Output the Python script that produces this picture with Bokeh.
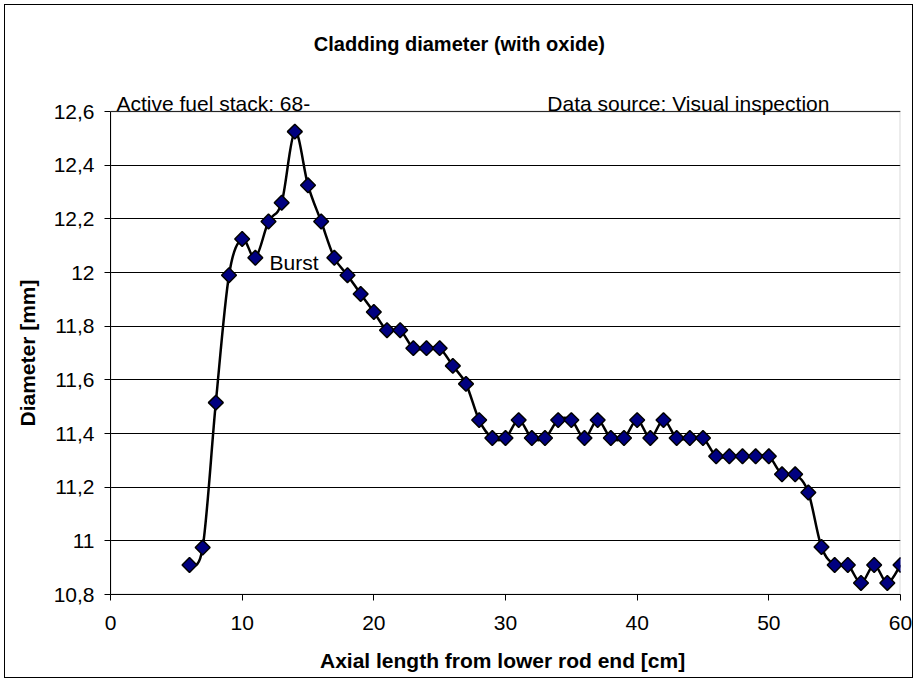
import numpy as np
from bokeh.plotting import figure
from bokeh.models import Label, BoxAnnotation, FixedTicker, CustomJSTickFormatter
from bokeh.embed import file_html
from bokeh.resources import INLINE

# ---- data ----
axial_cm = list(range(6, 61))
diameter_mm = [10.91, 10.975, 11.515, 11.99, 12.125, 12.055, 12.19, 12.26, 12.525, 12.325,
               12.19, 12.055, 11.99, 11.92, 11.853, 11.785, 11.785, 11.718, 11.718, 11.718,
               11.652, 11.585, 11.45, 11.383, 11.383, 11.45, 11.383, 11.383, 11.45, 11.45,
               11.383, 11.45, 11.383, 11.383, 11.45, 11.383, 11.45, 11.383, 11.383, 11.383,
               11.315, 11.315, 11.315, 11.315, 11.315, 11.248, 11.248, 11.18, 10.977, 10.91,
               10.91, 10.843, 10.91, 10.843, 10.91]
x_ticks = [0, 10, 20, 30, 40, 50, 60]
y_ticks = [10.8, 11.0, 11.2, 11.4, 11.6, 11.8, 12.0, 12.2, 12.4, 12.6]
x_min, x_max = 0, 60
y_min, y_max = 10.8, 12.6

title_text = "Cladding diameter (with oxide)"
x_title = "Axial length  from lower rod end [cm]"
y_title = "Diameter [mm]"
note_left = "Active fuel stack: 68-"
note_left_2 = "540"
note_right = "Data source: Visual inspection"
burst_text = "Burst"

FONT = "Liberation Sans"

# layout (pixels): plot area is 483 px tall; the frame is extended above it
# so that the title and notes share the frame and are not clipped.
AREA_H = 483
TOP_EXTRA = 106
y_top = y_max + (y_max - y_min) * TOP_EXTRA / AREA_H

p = figure(width=909, height=674, x_range=(x_min, x_max), y_range=(y_min, y_top),
           output_backend="svg", toolbar_location=None, title=None,
           min_border_left=105, min_border_right=14, min_border_top=0, min_border_bottom=85)
p.styles = {"border": "1px solid black", "margin-left": "4px", "margin-top": "4px"}
p.background_fill_color = "white"
p.border_fill_color = "white"
p.outline_line_color = None

# axes
p.xaxis.ticker = FixedTicker(ticks=x_ticks)
p.yaxis.ticker = FixedTicker(ticks=y_ticks)
p.yaxis.bounds = (y_min, y_max)
p.yaxis.formatter = CustomJSTickFormatter(code="""
    const v = Math.round(tick * 10) / 10;
    return v.toString().replace('.', ',');
""")
for ax in (p.xaxis, p.yaxis):
    ax.axis_line_color = "black"
    ax.axis_line_width = 1
    ax.major_tick_line_color = "black"
    ax.major_tick_out = 6
    ax.major_tick_in = 0
    ax.minor_tick_line_color = None
    ax.major_label_text_font = FONT
    ax.major_label_text_font_size = "21px"
    ax.major_label_text_color = "black"
    ax.axis_label_text_font = FONT
    ax.axis_label_text_font_size = "21px"
    ax.axis_label_text_font_style = "bold"
    ax.axis_label_text_color = "black"
p.xaxis.axis_label = x_title
p.xaxis.major_label_standoff = 15
p.xaxis.axis_label_standoff = 16
p.yaxis.major_label_standoff = 10

p.xgrid.grid_line_color = None
p.ygrid.ticker = FixedTicker(ticks=y_ticks)
p.ygrid.grid_line_color = "black"
p.ygrid.grid_line_width = 1

# y-axis title, centred on the plot area (not on the extended frame)
p.add_layout(Label(x=0, y=(y_min + y_max) / 2, x_units="screen", y_units="data",
                   text=y_title, angle=np.pi / 2, text_font=FONT, text_font_size="21px",
                   text_font_style="bold", text_align="center", text_baseline="middle",
                   text_color="black"), "left")

# plot-area border (grey), below the data marks
p.add_layout(BoxAnnotation(left=x_min, right=x_max, bottom=y_min, top=y_max,
                           fill_color=None, fill_alpha=0, line_color="#808080",
                           line_width=2, level="underlay"))

# smoothed line (Catmull-Rom style Bezier through the data points)
xs = np.array(axial_cm, dtype=float)
ys = np.array(diameter_mm, dtype=float)
n = len(xs)
xp = np.concatenate([[xs[0]], xs, [xs[-1]]])
yp = np.concatenate([[ys[0]], ys, [ys[-1]]])
x0 = xs[:-1]; y0 = ys[:-1]; x1 = xs[1:]; y1 = ys[1:]
cx0 = xs[:-1] + (xp[2:n + 1] - xp[0:n - 1]) / 6.0
cy0 = ys[:-1] + (yp[2:n + 1] - yp[0:n - 1]) / 6.0
cx1 = xs[1:] - (xp[3:n + 2] - xp[1:n]) / 6.0
cy1 = ys[1:] - (yp[3:n + 2] - yp[1:n]) / 6.0
p.bezier(x0=x0, y0=y0, x1=x1, y1=y1, cx0=cx0, cy0=cy0, cx1=cx1, cy1=cy1,
         line_color="black", line_width=2.5)

p.scatter(axial_cm, diameter_mm, marker="square", size=10.5, angle=np.pi / 4,
          fill_color="#000080", line_color="black", line_width=1.5)

# texts (data units; positions are layout choices)
def dlabel(x, y, text, size="21px", style="normal", align="left", baseline="alphabetic"):
    return Label(x=x, y=y, text=text, text_font=FONT, text_font_size=size,
                 text_font_style=style, text_align=align, text_baseline=baseline,
                 text_color="black")

p.add_layout(dlabel(26.5, 12.853, title_text, size="20px", style="bold", align="center",
                    baseline="middle"))
p.add_layout(dlabel(0.45, 12.63, note_left))
p.add_layout(dlabel(0.45, 12.533, note_left_2))
p.add_layout(BoxAnnotation(left=0.15, right=4.5, top=12.5646, bottom=12.49,
                           fill_color="white", fill_alpha=1.0, line_color=None))
p.add_layout(dlabel(54.6, 12.63, note_right, align="right"))
p.add_layout(dlabel(12.08, 12.037, burst_text))

open("out.html", "w").write(file_html(p, INLINE))
